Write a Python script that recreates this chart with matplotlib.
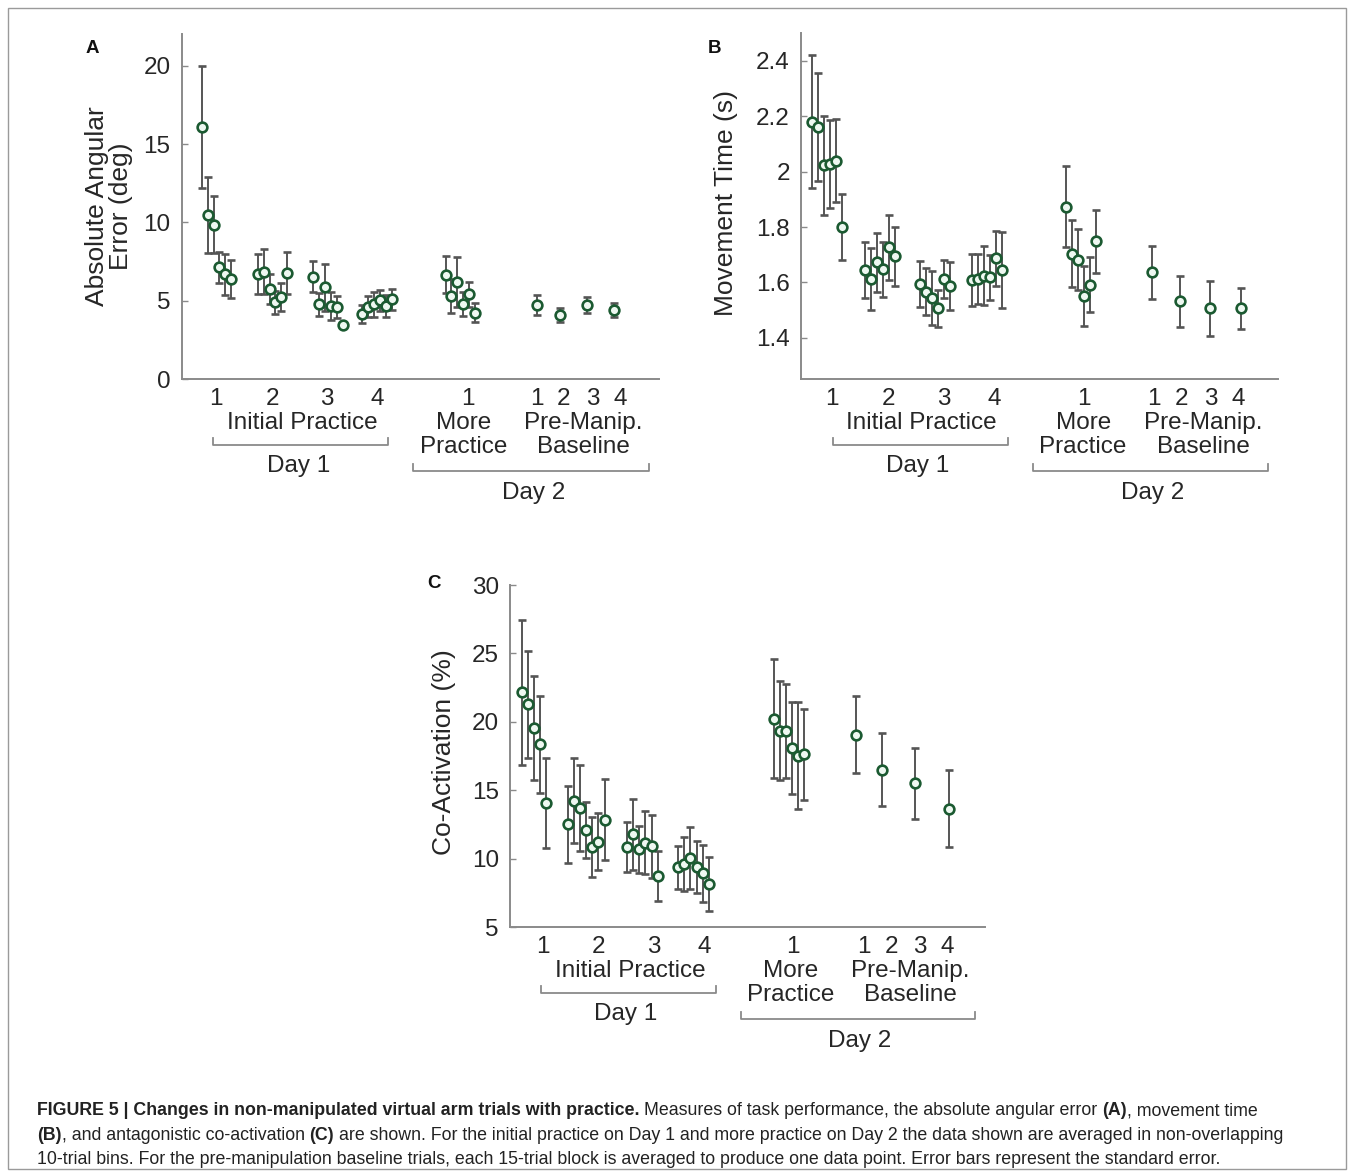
import numpy as np
import matplotlib
matplotlib.use("Agg")
import matplotlib.pyplot as plt
from matplotlib.lines import Line2D
from matplotlib.patches import Rectangle
from matplotlib import font_manager as fm

# ---------------- data ----------------
tick_labels = ["1", "2", "3", "4", "1", "1", "2", "3", "4"]

# Panel A: absolute angular error (deg)
A_init = [16.1, 10.47, 9.85, 7.13, 6.7, 6.38,
          6.72, 6.87, 5.74, 4.91, 5.26, 6.77,
          6.55, 4.77, 5.87, 4.68, 4.6, 3.47,
          4.15, 4.62, 4.77, 5.04, 4.68, 5.09]
A_init_err = [3.87, 2.42, 1.82, 1.0, 1.3, 1.2,
              1.3, 1.45, 0.95, 0.75, 0.9, 1.35,
              1.0, 0.75, 1.5, 0.9, 0.7, 0.2,
              0.58, 0.67, 0.8, 0.68, 0.7, 0.65]
A_more = [6.68, 5.3, 6.21, 4.81, 5.41, 4.24]
A_more_err = [1.2, 1.1, 1.6, 0.75, 0.8, 0.6]
A_base = [4.75, 4.1, 4.75, 4.4]
A_base_err = [0.65, 0.45, 0.5, 0.45]
A_blocks = [6, 6, 6, 6]

# Panel B: movement time (s)
B_init = [2.18, 2.163, 2.023, 2.028, 2.04, 1.80,
          1.645, 1.613, 1.672, 1.647, 1.727, 1.695,
          1.593, 1.566, 1.545, 1.506, 1.612, 1.587,
          1.608, 1.613, 1.625, 1.618, 1.687, 1.645]
B_init_err = [0.24, 0.195, 0.18, 0.16, 0.15, 0.12,
              0.1, 0.113, 0.108, 0.1, 0.118, 0.107,
              0.083, 0.085, 0.098, 0.068, 0.07, 0.088,
              0.093, 0.09, 0.106, 0.08, 0.1, 0.138]
B_more = [1.874, 1.704, 1.682, 1.55, 1.592, 1.748]
B_more_err = [0.145, 0.12, 0.11, 0.108, 0.1, 0.114]
B_base = [1.636, 1.532, 1.506, 1.506]
B_base_err = [0.095, 0.092, 0.1, 0.074]
B_blocks = [6, 6, 6, 6]

# Panel C: co-activation (%)
C_init = [22.15, 21.3, 19.54, 18.36, 14.06,
          12.51, 14.25, 13.72, 12.13, 10.87, 11.26, 12.87,
          10.87, 11.8, 10.7, 11.18, 10.92, 8.74,
          9.37, 9.61, 10.07, 9.37, 8.94, 8.16]
C_init_err = [5.3, 3.9, 3.8, 3.55, 3.27,
              2.8, 3.1, 3.15, 2.05, 2.2, 2.1, 2.95,
              1.8, 2.6, 1.7, 2.3, 2.3, 1.85,
              1.6, 1.95, 2.25, 1.9, 2.1, 2.0]
C_more = [20.22, 19.37, 19.32, 18.11, 17.53, 17.63]
C_more_err = [4.35, 3.6, 3.45, 3.35, 3.9, 3.35]
C_base = [19.08, 16.52, 15.53, 13.66]
C_base_err = [2.8, 2.68, 2.6, 2.8]
C_blocks = [5, 7, 6, 6]

# ---------------- layout (pixel based) ----------------
W, H = 1354, 1176
FONT = "Liberation Sans"
plt.rcParams["font.family"] = [FONT, "DejaVu Sans"]

EDGE = "#1b5a31"
FILL = "#eef8f1"
ERRC = "#555555"
AXC = "#8a8a8a"
TXT = "#262626"
FS = 17.5

fig = plt.figure(figsize=(W / 100, H / 100), dpi=100)


def add_axes_px(l, t, r, b):
    return fig.add_axes([l / W, 1 - b / H, (r - l) / W, (b - t) / H]), (b - t)


def draw_panel(box, init, init_err, blocks, more, more_err, base, base_err,
               lay, ylim, yticks, yticklabels):
    ax, ah = add_axes_px(*box)
    step = lay["step"]
    xs = []
    for start, n in zip(lay["init_starts"], blocks):
        xs += [start + i * step for i in range(n)]
    xs += [lay["more_start"] + i * step for i in range(len(more))]
    xs += list(lay["base_x"])
    ys = list(init) + list(more) + list(base)
    es = list(init_err) + list(more_err) + list(base_err)
    ax.errorbar(xs, ys, yerr=es, fmt="o", ms=7.0, mfc=FILL, mec=EDGE, mew=1.9,
                ecolor=ERRC, elinewidth=1.4, capsize=2.8, capthick=1.4, zorder=3,
                clip_on=False)
    ax.set_xlim(0, 477)
    ax.set_ylim(*ylim)
    for s in ["top", "right"]:
        ax.spines[s].set_visible(False)
    for s in ["left", "bottom"]:
        ax.spines[s].set_color(AXC)
        ax.spines[s].set_linewidth(1.4)
    ax.set_yticks(yticks)
    ax.set_yticklabels(yticklabels)
    ax.tick_params(axis="y", direction="in", length=4, width=1.0, color=AXC,
                   labelsize=FS, labelcolor=TXT, pad=8)
    ax.set_xticks(lay["ticks"])
    ax.set_xticklabels(tick_labels)
    ax.tick_params(axis="x", length=0, labelsize=FS, labelcolor=TXT, pad=6.0)

    tr = ax.get_xaxis_transform()

    def t(x, off, s):
        ax.text(x, -off / ah, s, transform=tr, ha="center", va="baseline",
                fontsize=FS, color=TXT, clip_on=False)

    def bracket(x0, x1, off_line, off_tick):
        ax.add_line(Line2D([x0, x0, x1, x1],
                           [-off_tick / ah, -off_line / ah, -off_line / ah, -off_tick / ah],
                           transform=tr, color=AXC, lw=1.3, clip_on=False))

    t(120.5, 50, "Initial Practice")
    bracket(31.5, 206.5, 65.7, 59)
    t(116.5, 92.4, "Day 1")
    t(282, 50, "More")
    t(282, 74, "Practice")
    t(402, 50, "Pre-Manip.")
    t(402, 74, "Baseline")
    bracket(231.5, 467, 91.4, 84.7)
    t(351.5, 120, "Day 2")
    return ax


layA = dict(init_starts=[20, 76, 131.3, 180.3], step=5.9, more_start=263.8,
            base_x=[355.6, 377.8, 404.8, 432.1],
            ticks=[34, 91, 145, 196, 286.6, 355, 381.6, 411.6, 438.3])
layB = dict(init_starts=[10.7, 64, 119, 170.7], step=6.0, more_start=264.5,
            base_x=[351, 378.5, 408.8, 439.9],
            ticks=[30.7, 87.3, 142.3, 193, 282.3, 352.3, 380.7, 409.7, 437.3])
layC = dict(init_starts=[11.7, 58.3, 117.7, 169], step=6.1, more_start=265.2,
            base_x=[347.3, 373.2, 406.5, 440.9],
            ticks=[32.7, 89, 144.3, 195, 284.3, 355, 382.7, 411.7, 439.3])

draw_panel((181.7, 34.3, 658.7, 379.3), A_init, A_init_err, A_blocks,
           A_more, A_more_err, A_base, A_base_err, layA, (0, 22),
           [0, 5, 10, 15, 20], ["0", "5", "10", "15", "20"])
draw_panel((801, 33.3, 1278.3, 379.3), B_init, B_init_err, B_blocks,
           B_more, B_more_err, B_base, B_base_err, layB, (1.25, 2.5),
           [1.4, 1.6, 1.8, 2.0, 2.2, 2.4], ["1.4", "1.6", "1.8", "2", "2.2", "2.4"])
draw_panel((510, 585, 985, 927.3), C_init, C_init_err, C_blocks,
           C_more, C_more_err, C_base, C_base_err, layC, (5, 30),
           [5, 10, 15, 20, 25, 30], ["5", "10", "15", "20", "25", "30"])


def ftext(x, y, s, **kw):
    return fig.text(x / W, 1 - y / H, s, **kw)


# y-axis labels
for x, y, s in [(104, 206, "Absolute Angular"), (128, 206, "Error (deg)"),
                (733, 203, "Movement Time (s)"), (451, 752, "Co-Activation (%)")]:
    ftext(x, y, s, rotation=90, rotation_mode="anchor", ha="center", va="baseline",
          fontsize=19, color=TXT)

# panel letters
for x, y, s in [(85.5, 53.3, "A"), (707.4, 53.3, "B"), (427.4, 588.3, "C")]:
    ftext(x, y, s, ha="left", va="baseline", fontsize=13.5, fontweight="bold", color="#111111")

# frame
fig.patches.append(Rectangle((8 / W, 1 - 1169 / H), (1346 - 8) / W, (1169 - 8) / H,
                             transform=fig.transFigure, fill=False, ec="#9a9a9a", lw=1.0))

# caption
names = {f.name for f in fm.fontManager.ttflist}
cap_font = "Liberation Sans Narrow" if "Liberation Sans Narrow" in names else FONT
renderer = fig.canvas.get_renderer()

cap_lines = [
    [("FIGURE 5 | Changes in non-manipulated virtual arm trials with practice.", True),
     ("Measures of task performance, the absolute angular error", False),
     ("(A)", True), (", movement time", False)],
    [("(B)", True), (", and antagonistic co-activation", False), ("(C)", True),
     ("are shown. For the initial practice on Day 1 and more practice on Day 2 the data shown are averaged in non-overlapping", False)],
    [("10-trial bins. For the pre-manipulation baseline trials, each 15-trial block is averaged to produce one data point. Error bars represent the standard error.", False)],
]
joins = [[True, True, False], [False, True, True], []]  # space before next segment?
cap_targets = [1260.0, 1265.0, 1185.0]


def draw_line(segs, join, y, size):
    x = 37.0
    arts = []
    sp = fig.text(0, 0, "x x", fontsize=size, family=cap_font)
    nsp = fig.text(0, 0, "xx", fontsize=size, family=cap_font)
    space = sp.get_window_extent(renderer).width - nsp.get_window_extent(renderer).width
    sp.remove(); nsp.remove()
    for i, (s, b) in enumerate(segs):
        a = ftext(x, y, s, ha="left", va="baseline", fontsize=size, family=cap_font,
                  fontweight="bold" if b else "normal", color="#222222")
        arts.append(a)
        x += a.get_window_extent(renderer).width
        if i < len(join) and join[i]:
            x += space
    return arts, x - 37.0


size0 = 12.0
sizes = []
for segs, join, target in zip(cap_lines, joins, cap_targets):
    arts, w = draw_line(segs, join, 1115, size0)
    for a in arts:
        a.remove()
    sizes.append(size0 * target / w)
size = min(sizes)
for segs, join, y in zip(cap_lines, joins, [1115, 1140, 1163.5]):
    draw_line(segs, join, y, size)

fig.savefig("out.png", dpi=100)
